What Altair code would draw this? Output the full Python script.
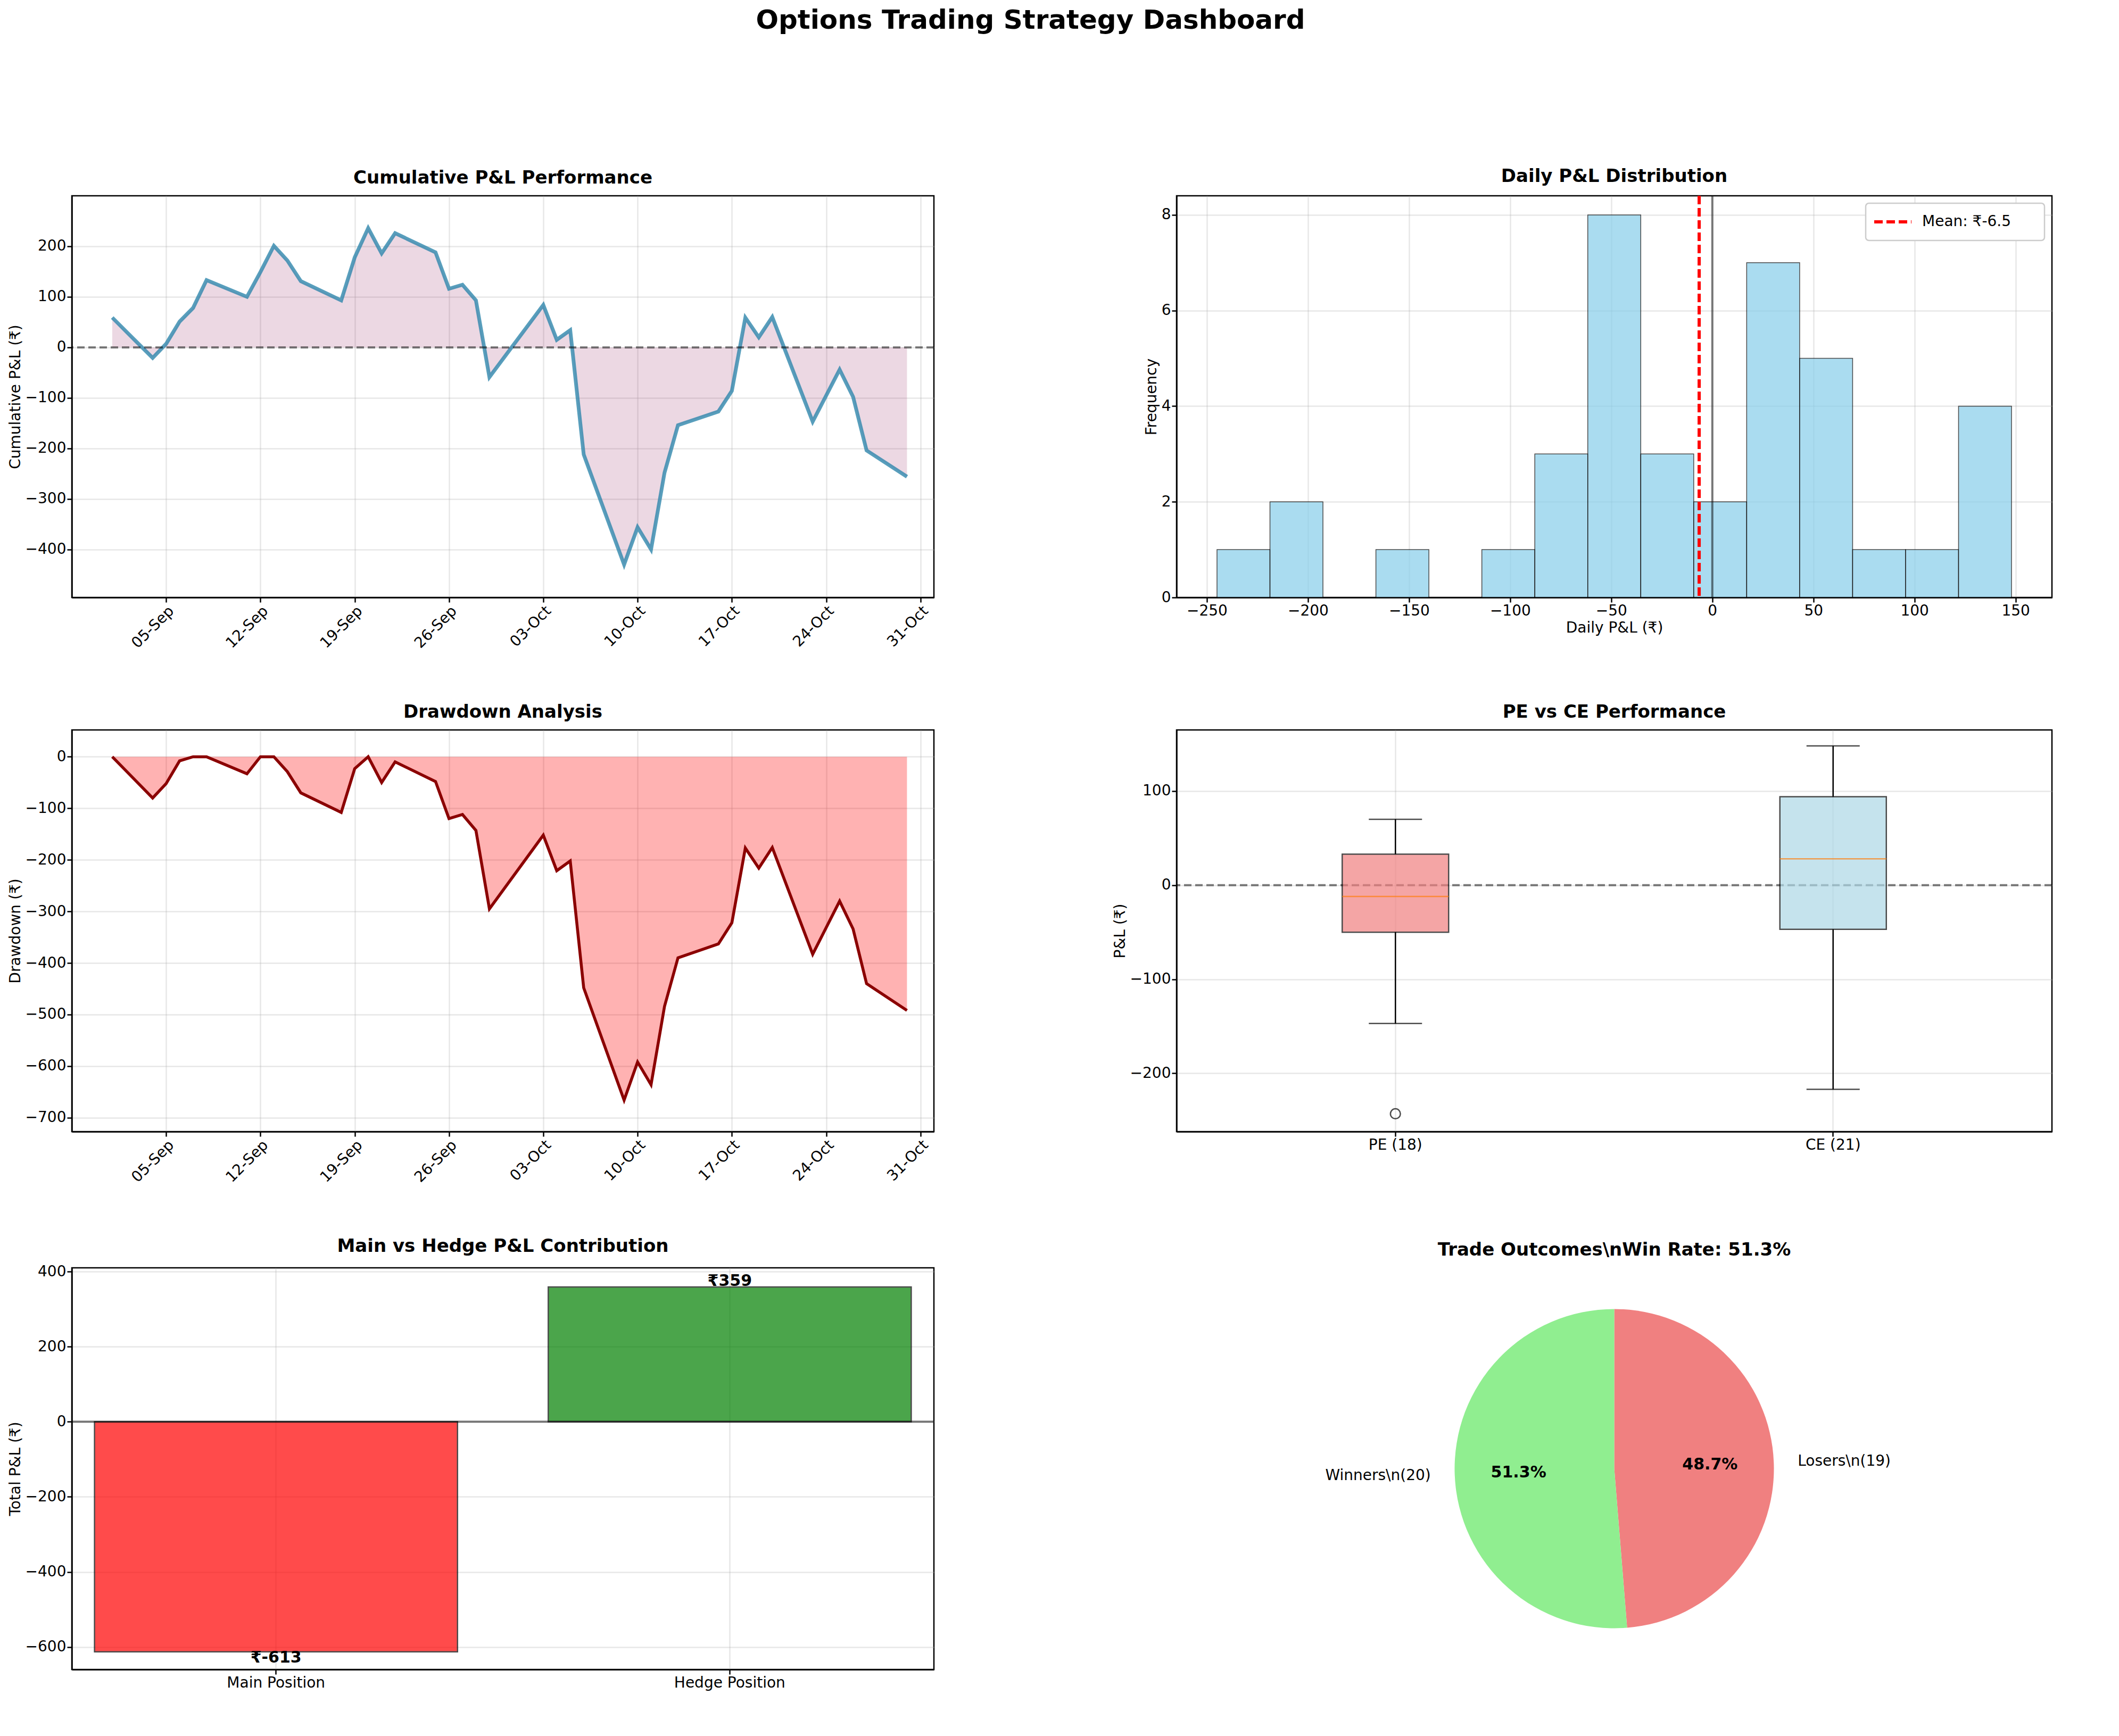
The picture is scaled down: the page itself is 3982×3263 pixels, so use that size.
import altair as alt
import pandas as pd

dates = ["2023-09-01", "2023-09-04", "2023-09-05", "2023-09-06", "2023-09-07", "2023-09-08",
         "2023-09-11", "2023-09-12", "2023-09-13", "2023-09-14", "2023-09-15", "2023-09-18",
         "2023-09-19", "2023-09-20", "2023-09-21", "2023-09-22", "2023-09-25", "2023-09-26",
         "2023-09-27", "2023-09-28", "2023-09-29", "2023-10-03", "2023-10-04", "2023-10-05",
         "2023-10-06", "2023-10-09", "2023-10-10", "2023-10-11", "2023-10-12", "2023-10-13",
         "2023-10-16", "2023-10-17", "2023-10-18", "2023-10-19", "2023-10-20", "2023-10-23",
         "2023-10-25", "2023-10-26", "2023-10-27", "2023-10-30"]
cum_pnl = [59, -21, 7, 51, 78, 133, 100, 149, 201, 172, 131, 93, 178, 236, 186, 226, 188, 116,
           124, 93, -59, 84, 15, 34, -212, -430, -356, -400, -248, -154, -127, -86, 59, 20, 60,
           -147, -44, -98, -204, -256]
date_ticks = ["2023-09-05", "2023-09-12", "2023-09-19", "2023-09-26", "2023-10-03",
              "2023-10-10", "2023-10-17", "2023-10-24", "2023-10-31"]

bin_start = [-245, -218.8, -192.6, -166.4, -140.2, -114, -87.8, -61.6, -35.4, -9.2, 17, 43.2,
             69.4, 95.6, 121.8]
bin_width = 26.2
bin_counts = [1, 2, 0, 1, 0, 1, 3, 8, 3, 2, 7, 5, 1, 1, 4]
mean_pnl = -6.5

box_cats = ["PE (18)", "CE (21)"]
box_min = [-147, -217]
box_q1 = [-50, -47]
box_med = [-12, 28]
box_q3 = [33, 94]
box_max = [70, 148]
box_colors = ["lightcoral", "lightblue"]
pe_outliers = [-243]

contrib_cats = ["Main Position", "Hedge Position"]
contrib_vals = [-613, 359]
contrib_colors = ["red", "green"]

outcome_labels = ["Losers\\n(19)", "Winners\\n(20)"]
outcome_counts = [19, 20]
outcome_pcts = ["48.7%", "51.3%"]
outcome_colors = ["lightcoral", "lightgreen"]

W, H = 1620, 755
W2 = 1645
TF = 34
dom = [alt.DateTime(year=2023, month=8, date=29), alt.DateTime(year=2023, month=11, date=1)]
tick_vals = [alt.DateTime(year=int(d[:4]), month=int(d[5:7]), date=int(d[8:])) for d in date_ticks]

ts = pd.DataFrame({"date": dates, "cum": cum_pnl})
ts["dd"] = ts["cum"] - ts["cum"].cummax().clip(lower=0)
ts["zero"] = 0

xdate = alt.X("date:T", scale=alt.Scale(domain=dom), title=None,
              axis=alt.Axis(values=tick_vals, format="%d-%b", labelAngle=-45, labelAlign="right"))

base = alt.Chart(ts)
cum_chart = alt.layer(
    base.mark_area(color="#A23B72", opacity=0.2).encode(x=xdate, y="cum:Q", y2="zero:Q"),
    base.mark_line(color="#2E86AB", opacity=0.8, strokeWidth=7).encode(
        x=xdate, y=alt.Y("cum:Q", title="Cumulative P&L (₹)", scale=alt.Scale(domain=[-495, 300], nice=False),
                         axis=alt.Axis(values=[-400, -300, -200, -100, 0, 100, 200]))),
    alt.Chart(pd.DataFrame({"y": [0]})).mark_rule(color="black", opacity=0.5, strokeDash=[14, 7], strokeWidth=4).encode(y="y:Q"),
).properties(width=W, height=H, title="Cumulative P&L Performance")

dd_chart = alt.layer(
    base.mark_area(color="red", opacity=0.3).encode(x=xdate, y="dd:Q", y2="zero:Q"),
    base.mark_line(color="darkred", strokeWidth=5.5).encode(
        x=xdate, y=alt.Y("dd:Q", title="Drawdown (₹)", scale=alt.Scale(domain=[-727, 52], nice=False),
                         axis=alt.Axis(values=[-700, -600, -500, -400, -300, -200, -100, 0]))),
).properties(width=W, height=H, title="Drawdown Analysis")

hist = pd.DataFrame({"s": bin_start, "c": bin_counts})
hist["e"] = hist["s"] + bin_width
one = pd.DataFrame({"l": [f"Mean: ₹{mean_pnl}"]})
hist_chart = alt.layer(
    alt.Chart(hist).mark_rect(color="skyblue", opacity=0.7, stroke="black", strokeWidth=1.5).encode(
        x=alt.X("s:Q", title="Daily P&L (₹)", scale=alt.Scale(domain=[-265, 168], nice=False),
                axis=alt.Axis(values=[-250, -200, -150, -100, -50, 0, 50, 100, 150])),
        x2="e:Q",
        y=alt.Y("c:Q", title="Frequency", scale=alt.Scale(domain=[0, 8.4], nice=False),
                axis=alt.Axis(values=[0, 2, 4, 6, 8])),
        y2=alt.datum(0)),
    alt.Chart(pd.DataFrame({"x": [0]})).mark_rule(color="black", opacity=0.5, strokeWidth=4).encode(x="x:Q"),
    alt.Chart(pd.DataFrame({"x": [mean_pnl]})).mark_rule(color="red", strokeDash=[16, 7], strokeWidth=6).encode(x="x:Q"),
    # legend box
    alt.Chart(one).mark_rect(fill="white", stroke="#cccccc", strokeWidth=2.5, cornerRadius=6).encode(
        x=alt.value(W2 - 350), x2=alt.value(W2 - 14), y=alt.value(14), y2=alt.value(84)),
    alt.Chart(one).mark_rule(color="red", strokeDash=[16, 7], strokeWidth=6).encode(
        x=alt.value(W2 - 334), x2=alt.value(W2 - 264), y=alt.value(49)),
    alt.Chart(one).mark_text(align="left", baseline="middle", fontSize=28).encode(
        x=alt.value(W2 - 244), y=alt.value(49), text="l:N"),
).properties(width=W2, height=H, title="Daily P&L Distribution")

bx = pd.DataFrame({"cat": box_cats, "mn": box_min, "q1": box_q1, "md": box_med, "q3": box_q3,
                   "mx": box_max, "col": box_colors})
bxx = alt.X("cat:N", sort=box_cats, title=None, axis=alt.Axis(labelAngle=0),
            scale=alt.Scale(paddingInner=0.0, paddingOuter=0.0))
yb = alt.Y("mn:Q", title="P&L (₹)", scale=alt.Scale(domain=[-262, 165], nice=False),
           axis=alt.Axis(values=[-200, -100, 0, 100]))
bxb = alt.Chart(bx)
box_chart = alt.layer(
    alt.Chart(pd.DataFrame({"y": [0]})).mark_rule(color="black", opacity=0.5, strokeDash=[14, 7], strokeWidth=4).encode(y=alt.Y("y:Q")),
    bxb.mark_rule(color="black", strokeWidth=2.5).encode(x=bxx, y=yb, y2="q1:Q"),
    bxb.mark_rule(color="black", strokeWidth=2.5).encode(x=bxx, y="q3:Q", y2="mx:Q"),
    bxb.mark_tick(color="black", size=100, thickness=2.5).encode(x=bxx, y="mn:Q"),
    bxb.mark_tick(color="black", size=100, thickness=2.5).encode(x=bxx, y="mx:Q"),
    bxb.mark_bar(size=200, opacity=0.7, stroke="black", strokeWidth=2.5).encode(
        x=bxx, y="q1:Q", y2="q3:Q", fill=alt.Color("col:N", scale=None), strokeOpacity=alt.value(1)),
    bxb.mark_tick(color="#ff7f0e", size=200, thickness=2.5).encode(x=bxx, y="md:Q"),
    alt.Chart(pd.DataFrame({"cat": [box_cats[0]] * len(pe_outliers), "v": pe_outliers})).mark_point(
        shape="circle", size=350, color="black", strokeWidth=2.5).encode(x=bxx, y="v:Q"),
).properties(width=W2, height=H, title="PE vs CE Performance")

cb = pd.DataFrame({"cat": contrib_cats, "v": contrib_vals, "col": contrib_colors,
                   "lab": [f"₹{v}" for v in contrib_vals]})
cbx = alt.X("cat:N", sort=contrib_cats, title=None, axis=alt.Axis(labelAngle=0, labelLimit=0),
            scale=alt.Scale(paddingInner=0.2, paddingOuter=0.05))
cbb = alt.Chart(cb)
contrib_chart = alt.layer(
    cbb.mark_bar(opacity=0.7, stroke="black", strokeWidth=2.5).encode(
        x=cbx, y=alt.Y("v:Q", title="Total P&L (₹)", scale=alt.Scale(domain=[-660, 410], nice=False),
                       axis=alt.Axis(values=[-600, -400, -200, 0, 200, 400])),
        y2=alt.datum(0), fill=alt.Color("col:N", scale=None), strokeOpacity=alt.value(1)),
    alt.Chart(pd.DataFrame({"y": [0]})).mark_rule(color="black", opacity=0.5, strokeWidth=4).encode(y="y:Q"),
    cbb.transform_filter("datum.v < 0").mark_text(baseline="top", fontWeight="bold", fontSize=30, dy=-4).encode(
        x=cbx, y="v:Q", text="lab:N"),
    cbb.transform_filter("datum.v >= 0").mark_text(baseline="bottom", fontWeight="bold", fontSize=30, dy=4).encode(
        x=cbx, y="v:Q", text="lab:N"),
).properties(width=W, height=H, title="Main vs Hedge P&L Contribution")

pie = pd.DataFrame({"lab": outcome_labels, "n": outcome_counts, "pct": outcome_pcts,
                    "col": outcome_colors, "o": [0, 1]})
total = sum(outcome_counts)
pb = alt.Chart(pie).encode(theta=alt.Theta("n:Q", stack=True), order=alt.Order("o:Q"))
pmid = alt.Chart(pie).transform_window(cum="sum(n)", sort=[alt.SortField("o")]).transform_calculate(
    mid="datum.cum - datum.n / 2")
mid_theta = alt.Theta("mid:Q", stack=False, scale=alt.Scale(domain=[0, total]))
pie_chart = alt.layer(
    pb.mark_arc(outerRadius=300).encode(fill=alt.Color("col:N", scale=None)),
    pmid.mark_text(radius=180, fontWeight="bold", fontSize=30).encode(theta=mid_theta, text="pct:N"),
    pmid.transform_filter("datum.o == 0").mark_text(radius=345, align="left", fontSize=28).encode(
        theta=mid_theta, text="lab:N"),
    pmid.transform_filter("datum.o == 1").mark_text(radius=345, align="right", fontSize=28).encode(
        theta=mid_theta, text="lab:N"),
).properties(width=W2, height=H, title="Trade Outcomes\\nWin Rate: 51.3%",
             view=alt.ViewBackground(stroke="transparent"))

chart = alt.concat(cum_chart, hist_chart, dd_chart, box_chart, contrib_chart, pie_chart,
                   columns=2, spacing={"row": 95, "column": 330}).properties(
    title=alt.TitleParams("Options Trading Strategy Dashboard", fontSize=50, fontWeight="bold",
                          offset=250, anchor="middle")
).configure(font="DejaVu Sans").configure_title(
    fontSize=TF, fontWeight="bold", font="DejaVu Sans", offset=16
).configure_axis(
    labelFontSize=28, titleFontSize=28, titleFontWeight="normal", labelColor="black", titleColor="black",
    domainColor="black", domainWidth=2.5, tickColor="black", tickWidth=2.5, tickSize=9,
    gridColor="#b0b0b0", gridOpacity=0.3, gridWidth=2.5, labelFont="DejaVu Sans", titleFont="DejaVu Sans"
).configure_axisX(grid=True).configure_view(stroke="black", strokeWidth=2.5)

chart.save("out.html", embed_options={"renderer": "svg", "actions": False})
